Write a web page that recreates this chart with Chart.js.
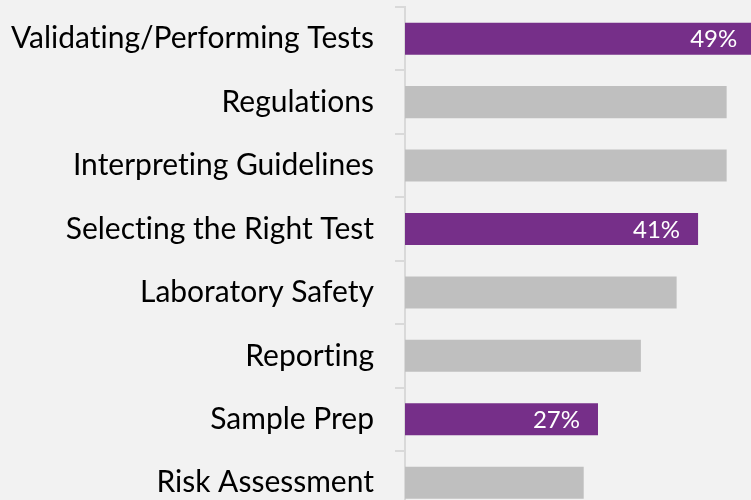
<!DOCTYPE html>
<html>
<head>
<meta charset="utf-8">
<script src="https://cdn.jsdelivr.net/npm/chart.js@4.4.1/dist/chart.umd.min.js"></script>
<style>
  html, body { margin: 0; padding: 0; background: #f2f2f2; overflow: hidden; width: 751px; height: 500px; }
  #wrap { position: absolute; left: 0; top: 0; width: 780px; height: 521px; }
</style>
</head>
<body>
<div id="wrap"><canvas id="c" width="780" height="521"></canvas></div>
<script>
const categories = [
  "Validating/Performing Tests",
  "Regulations",
  "Interpreting Guidelines",
  "Selecting the Right Test",
  "Laboratory Safety",
  "Reporting",
  "Sample Prep",
  "Risk Assessment"
];
const values = [49, 45, 45, 41, 38, 33, 27, 25];
const highlighted = [true, false, false, true, false, false, true, false];
const axisMax = 50;

const PURPLE = "#762F89";
const GRAY = "#BFBFBF";

const noLigatures = {
  id: "noLigatures",
  beforeDraw(chart) {
    try { chart.ctx.textRendering = "optimizeSpeed"; } catch (e) {}
  }
};

const labelPlugin = {
  id: "barLabels",
  afterDatasetsDraw(chart) {
    const ctx = chart.ctx;
    const meta = chart.getDatasetMeta(0);
    ctx.save();
    ctx.fillStyle = "#ffffff";
    ctx.font = "24px Lato";
    ctx.textAlign = "right";
    ctx.textBaseline = "middle";
    meta.data.forEach((bar, i) => {
      if (!highlighted[i]) return;
      ctx.fillText(values[i] + "%", bar.x - 18, bar.y + 1);
    });
    ctx.restore();
  }
};

new Chart(document.getElementById("c"), {
  type: "bar",
  data: {
    labels: categories,
    datasets: [{
      data: values,
      backgroundColor: highlighted.map(h => h ? PURPLE : GRAY),
      borderWidth: 0,
      barPercentage: 0.505,
      categoryPercentage: 1.0
    }]
  },
  plugins: [noLigatures, labelPlugin],
  options: {
    indexAxis: "y",
    responsive: false,
    animation: false,
    events: [],
    layout: { padding: { top: 7, bottom: 6.6, left: 0, right: 17.6 } },
    plugins: { legend: { display: false }, tooltip: { enabled: false } },
    scales: {
      x: {
        display: false,
        min: 0,
        max: axisMax
      },
      y: {
        afterFit(scale) { scale.width = 405; scale.paddingTop = 0; scale.paddingBottom = 0; },
        grid: {
          display: true,
          drawOnChartArea: false,
          drawTicks: true,
          tickLength: 10,
          color: "#d9d9d9",
          lineWidth: 2,
          offset: true
        },
        border: { display: true, color: "#d9d9d9", width: 2 },
        ticks: {
          color: "#000000",
          padding: 21,
          font: { family: "Lato", size: 30 }
        }
      }
    }
  }
});
</script>
</body>
</html>
